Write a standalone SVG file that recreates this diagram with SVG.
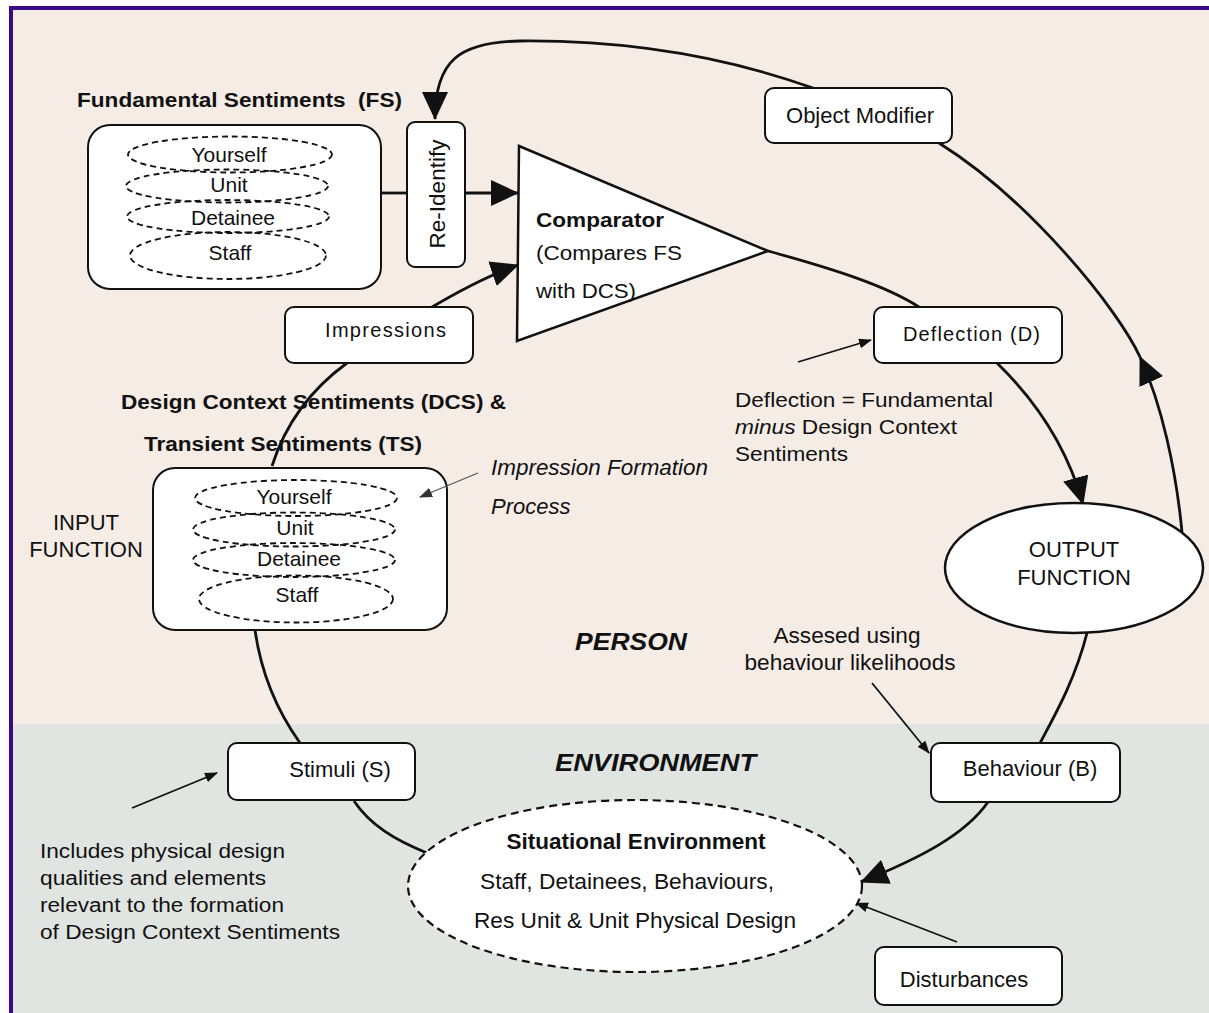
<svg xmlns="http://www.w3.org/2000/svg" width="1209" height="1013" viewBox="0 0 1209 1013">
<style>
text{font-family:"Liberation Sans",Arial,sans-serif;fill:#111}
.t21{font-size:21px}
.t22{font-size:22px}
.n19{font-size:19.5px}
.b19{font-size:19.5px;font-weight:bold}
.box{fill:#fff;stroke:#111;stroke-width:2}
.dash{fill:none;stroke:#111;stroke-width:1.8;stroke-dasharray:6 4}
.conn{fill:none;stroke:#111;stroke-width:2.8}
.thin{fill:none;stroke:#111;stroke-width:1.8}
.mid{text-anchor:middle}
</style>
<defs>
<marker id="ah" markerUnits="userSpaceOnUse" markerWidth="28" markerHeight="26" refX="27" refY="13" orient="auto"><path d="M0,0 L28,13 L0,26 z" fill="#111"/></marker>
<marker id="sa" markerUnits="userSpaceOnUse" markerWidth="13" markerHeight="10" refX="12" refY="5" orient="auto"><path d="M0,0 L13,5 L0,10 z" fill="#111"/></marker>
<marker id="ga" markerUnits="userSpaceOnUse" markerWidth="13" markerHeight="10" refX="12" refY="5" orient="auto"><path d="M0,0 L13,5 L0,10 z" fill="#333"/></marker>
</defs>

<g id="background">
<rect x="0" y="0" width="1209" height="1013" fill="#fff"/>
<rect x="13" y="10" width="1196" height="714" fill="#f5ece6"/>
<rect x="13" y="724" width="1196" height="289" fill="#e1e5e1"/>
<rect x="9" y="6" width="1200" height="4" fill="#3a0a87"/>
<rect x="9" y="6" width="4" height="1007" fill="#3a0a87"/>
</g>

<g id="connectors">
<path class="conn" d="M813,88 C720,55 620,40 520,41 C460,42 435,60 435,119" marker-end="url(#ah)"/>
<path class="conn" d="M381,193 L407,193"/>
<path class="conn" d="M465,193 L518,193" marker-end="url(#ah)"/>
<path class="conn" d="M272,466 C285,425 310,390 347,363 C384,336 460,285 518,265" marker-end="url(#ah)"/>
<path class="conn" d="M768,251 C830,268 885,285 919,307"/>
<path class="conn" d="M997,363 C1030,395 1065,440 1083,504" marker-end="url(#ah)"/>
<path class="conn" d="M1182,532 C1176,470 1162,405 1140,357" marker-end="url(#ah)"/>
<path class="conn" d="M1140,357 C1118,309 1030,200 939,143"/>
<path class="conn" d="M1087,633 C1075,680 1055,715 1040,743"/>
<path class="conn" d="M988,802 C965,835 920,858 861,882" marker-end="url(#ah)"/>
<path class="conn" d="M255,630 C262,680 280,715 300,743"/>
<path class="conn" d="M354,801 C370,825 395,840 427,853"/>
<path class="thin" d="M798,362 L871,340" marker-end="url(#sa)"/>
<path class="thin" d="M872,683 L929,753" marker-end="url(#sa)"/>
<path class="thin" d="M132,808 L217,773" marker-end="url(#sa)"/>
<path class="thin" d="M957,942 L856,903" marker-end="url(#sa)"/>
</g>

<g id="fs">
<text class="b19" x="77" y="107" textLength="325" lengthAdjust="spacingAndGlyphs">Fundamental Sentiments&#160; (FS)</text>
<rect class="box" x="88" y="125" width="293" height="164" rx="22" stroke-width="2.5"/>
<ellipse class="dash" cx="230" cy="154.5" rx="102" ry="18"/>
<ellipse class="dash" cx="227" cy="186" rx="101" ry="16.5"/>
<ellipse class="dash" cx="228" cy="216.5" rx="101" ry="16.5"/>
<ellipse class="dash" cx="228" cy="255.5" rx="98" ry="23.5"/>
<text class="t21 mid" x="229" y="162">Yourself</text>
<text class="t21 mid" x="229" y="192">Unit</text>
<text class="t21 mid" x="233" y="225">Detainee</text>
<text class="t21 mid" x="230" y="260">Staff</text>
</g>

<g id="reidentify">
<rect class="box" x="407" y="122" width="58" height="145" rx="8"/>
<text class="mid" font-size="22.5" transform="translate(445,194) rotate(-90)">Re-Identify</text>
</g>

<g id="comparator">
<polygon points="519,146 768,251 517,341" fill="#fff" stroke="#111" stroke-width="2.5" stroke-linejoin="miter"/>
<text class="b19" x="536" y="227" textLength="128" lengthAdjust="spacingAndGlyphs">Comparator</text>
<text x="536" y="260" font-size="20" textLength="146" lengthAdjust="spacingAndGlyphs">(Compares FS</text>
<text x="536" y="298" font-size="20" textLength="100" lengthAdjust="spacingAndGlyphs">with DCS)</text>
</g>

<g id="objectmodifier">
<rect class="box" x="765" y="88" width="187" height="55" rx="9"/>
<text class="t22 mid" x="860" y="123">Object Modifier</text>
</g>

<g id="impressions">
<rect class="box" x="285" y="307" width="188" height="56" rx="9"/>
<text x="325" y="337" font-size="20" textLength="121" lengthAdjust="spacing">Impressions</text>
</g>

<g id="deflection">
<rect class="box" x="874" y="307" width="188" height="56" rx="9"/>
<text x="903" y="341" font-size="20" textLength="137" lengthAdjust="spacing">Deflection (D)</text>
</g>

<g id="deflection-note">
<text class="n19" x="735" y="407" textLength="258" lengthAdjust="spacingAndGlyphs">Deflection = Fundamental</text>
<text class="n19" x="735" y="434" textLength="222" lengthAdjust="spacingAndGlyphs"><tspan font-style="italic">minus</tspan> Design Context</text>
<text class="n19" x="735" y="461" textLength="113" lengthAdjust="spacingAndGlyphs">Sentiments</text>
</g>

<g id="dcs">
<text class="b19" x="121" y="409" textLength="385" lengthAdjust="spacingAndGlyphs">Design Context Sentiments (DCS) &amp;</text>
<text class="b19" x="144" y="451" textLength="278" lengthAdjust="spacingAndGlyphs">Transient Sentiments (TS)</text>
<rect class="box" x="153" y="468" width="294" height="162" rx="22" stroke-width="2.8"/>
<ellipse class="dash" cx="296" cy="498" rx="101" ry="18"/>
<ellipse class="dash" cx="294" cy="529.5" rx="101" ry="17"/>
<ellipse class="dash" cx="294" cy="560" rx="101" ry="17"/>
<ellipse class="dash" cx="296" cy="599" rx="97" ry="23.5"/>
<text class="t21 mid" x="294" y="504">Yourself</text>
<text class="t21 mid" x="295" y="535">Unit</text>
<text class="t21 mid" x="299" y="566">Detainee</text>
<text class="t21 mid" x="297" y="602">Staff</text>
</g>

<g id="input-function">
<text class="t22 mid" x="86" y="530">INPUT</text>
<text class="t22 mid" x="86" y="557">FUNCTION</text>
</g>

<g id="impression-formation">
<text x="491" y="475" font-size="22" font-style="italic" fill="#222" textLength="217" lengthAdjust="spacingAndGlyphs">Impression Formation</text>
<text x="491" y="514" font-size="22" font-style="italic" fill="#222">Process</text>
<path d="M478,473 L420,497" fill="none" stroke="#555" stroke-width="1.2" marker-end="url(#ga)"/>
</g>

<g id="person">
<text x="575" y="650" font-size="24" font-weight="bold" font-style="italic" textLength="112" lengthAdjust="spacingAndGlyphs">PERSON</text>
</g>

<g id="output-function">
<ellipse cx="1074" cy="568" rx="129" ry="65" fill="#fff" stroke="#111" stroke-width="2.5"/>
<text class="t22 mid" x="1074" y="557">OUTPUT</text>
<text class="t22 mid" x="1074" y="585">FUNCTION</text>
</g>

<g id="assessed-note">
<text class="t22 mid" x="847" y="643" textLength="147" lengthAdjust="spacingAndGlyphs">Assesed using</text>
<text class="t22 mid" x="850" y="670" textLength="211" lengthAdjust="spacingAndGlyphs">behaviour likelihoods</text>
</g>

<g id="environment-label">
<text x="555" y="771" font-size="24" font-weight="bold" font-style="italic" textLength="201" lengthAdjust="spacingAndGlyphs">ENVIRONMENT</text>
</g>

<g id="behaviour">
<rect class="box" x="931" y="743" width="189" height="59" rx="9"/>
<text class="t22 mid" x="1030" y="776">Behaviour (B)</text>
</g>

<g id="stimuli">
<rect class="box" x="228" y="743" width="187" height="57" rx="9"/>
<text class="t22 mid" x="340" y="777">Stimuli (S)</text>
</g>

<g id="stimuli-note">
<text class="n19" x="40" y="858" textLength="245" lengthAdjust="spacingAndGlyphs">Includes physical design</text>
<text class="n19" x="40" y="885" textLength="226" lengthAdjust="spacingAndGlyphs">qualities and elements</text>
<text class="n19" x="40" y="912" textLength="244" lengthAdjust="spacingAndGlyphs">relevant to the formation</text>
<text class="n19" x="40" y="939" textLength="300" lengthAdjust="spacingAndGlyphs">of Design Context Sentiments</text>
</g>

<g id="situational-environment">
<ellipse cx="635" cy="886" rx="227" ry="86" fill="#fff" stroke="#111" stroke-width="2.2" stroke-dasharray="8 5"/>
<text class="t22 mid" x="636" y="849" font-weight="bold" textLength="259" lengthAdjust="spacingAndGlyphs">Situational Environment</text>
<text class="t22 mid" x="627" y="889" textLength="294" lengthAdjust="spacingAndGlyphs">Staff, Detainees, Behaviours,</text>
<text class="t22 mid" x="635" y="928" textLength="322" lengthAdjust="spacingAndGlyphs">Res Unit &amp; Unit Physical Design</text>
</g>

<g id="disturbances">
<rect class="box" x="875" y="947" width="187" height="58" rx="9"/>
<text class="t22 mid" x="964" y="987">Disturbances</text>
</g>
</svg>
